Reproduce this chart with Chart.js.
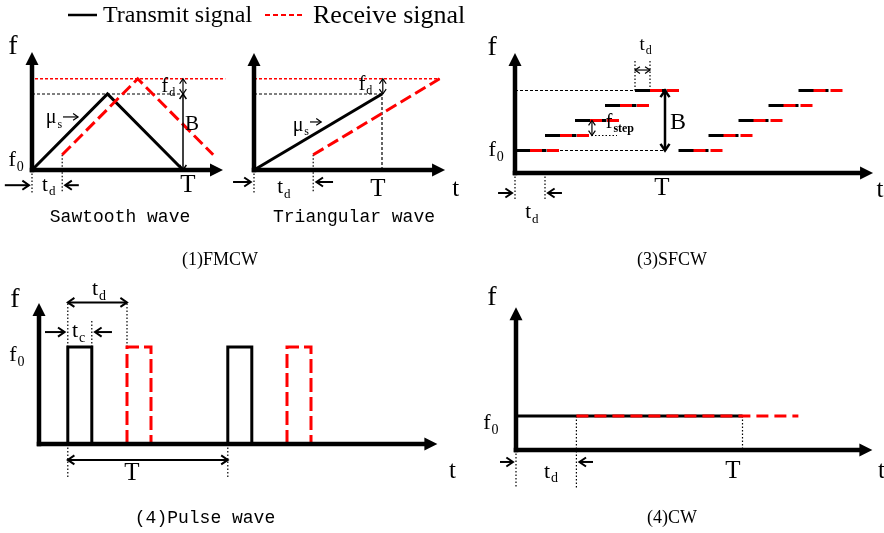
<!DOCTYPE html>
<html>
<head>
<meta charset="utf-8">
<script src="https://cdn.jsdelivr.net/npm/chart.js@4.4.1/dist/chart.umd.min.js"></script>
<style>
  html, body { margin: 0; padding: 0; background: #fff; }
  canvas { display: block; }
</style>
</head>
<body>
<canvas id="grafico" width="884" height="533"></canvas>
<script>
// ============================================
// Formas de onda de radar — FMCW / SFCW / Pulso / CW
// ============================================

const VERM = "#ff0000"
const PRETO = "#000000"

// ---- legenda
const legendaTextos = ["Transmit signal", "Receive signal"]

// ---- (1) FMCW: dente de serra  [t, f]
const serraTx    = [[0, 0], [5, 5], [10, 0]]
const serraRx    = [[2, 1], [7, 6], [12, 1]]
const serraRefB  = [[0, 5], [10.1, 5]]
const serraRefFd = [[0.2, 6], [12.8, 6]]
const serraPont  = [[[0, 0], [0, -1.5]], [[2, 1], [2, -1.5]]]
const serraEixos = [12.65, 7.76]
const serraSetas = [ // x0, y0, x1, y1, dupla, espessura
  [10, 0, 10, 5, true, 1.5],
  [10, 5, 10, 6, true, 1.2],
  [-1.8, -1, -0.2, -1, false, 2],
  [3.1, -1, 2.2, -1, false, 2],
  [2.05, 3.49, 3.05, 3.49, false, 1.2]
]
const serraTextos = [ // x, y, texto, indice, tamanho, fonte
  [-1.26, 8.09, "f", "", 28],
  [-1.32, 0.66, "f", "0", 22],
  [0.86, -0.99, "t", "d", 21],
  [8.8, 5.5, "f", "d", 20],
  [10.6, 3.0, "B", "", 21],
  [1.26, 3.42, "μ", "s", 20],
  [10.33, -0.99, "T", "", 25],
  [5.83, -3.09, "Sawtooth wave", "", 18, "mono"],
  [12.45, -5.92, "(1)FMCW", "", 18]
]

// ---- (1) FMCW: triangular
const triTx    = [[0, 0], [8, 5]]
const triRx    = [[3.7, 1], [11.6, 6]]
const triRefB  = [[0, 5], [8, 5]]
const triRefFd = [[0, 6], [11.6, 6]]
const triRefT  = [[8, 0], [8, 5]]
const triPont  = [[[0, 0], [0, -1.5]], [[3.7, 1], [3.7, -1.5]]]
const triEixos = [11.94, 7.7]
const triSetas = [
  [8.05, 5, 8.05, 6, true, 1.2],
  [-1.31, -0.79, -0.2, -0.79, false, 2],
  [4.94, -0.79, 3.9, -0.79, false, 2],
  [3.5, 3.16, 4.2, 3.16, false, 1.2]
]
const triTextos = [
  [6.75, 5.6, "f", "d", 20],
  [2.75, 2.9, "μ", "s", 20],
  [1.63, -1.18, "t", "d", 21],
  [7.75, -1.3, "T", "", 25],
  [12.6, -1.3, "t", "", 25],
  [6.25, -3.09, "Triangular wave", "", 18, "mono"]
]

// ---- (3) SFCW: degraus [t0, t1, f]
const sfcwTx = [[0, 2.1, 3], [2, 4.1, 5], [4, 6.1, 7], [6, 8.1, 9], [8, 10.1, 11],
                [10.9, 12.9, 3], [12.9, 14.9, 5], [14.9, 16.9, 7], [16.9, 18.9, 9], [18.9, 20.9, 11]]
const sfcwRx = [[1, 3, 3], [3, 5, 5], [5, 7, 7], [7, 9, 9], [9, 11, 11],
                [11.9, 13.9, 3], [13.9, 15.9, 5], [15.9, 17.9, 7], [17.9, 19.9, 9], [19.9, 21.9, 11]]
const sfcwRefTopo  = [[0, 11], [8, 11]]
const sfcwRefBase  = [[3, 3], [9.9, 3]]
const sfcwRefStep  = [[5.1, 5], [6.8, 5]]
const sfcwPont = [[[8, 11], [8, 15.1]], [[9, 11], [9, 15.1]], [[0, 0], [0, -3.6]], [[2, 0], [2, -3.6]]]
const sfcwEixos = [23.87, 16]
const sfcwSetas = [
  [10, 3, 10, 11, true, 2.5],
  [5.13, 5, 5.13, 7, true, 1.2],
  [8, 13.73, 9, 13.73, true, 1.2],
  [-1.13, -2.67, -0.2, -2.67, false, 2],
  [3.13, -2.67, 2.2, -2.67, false, 2]
]
const sfcwTextos = [
  [-1.53, 16.67, "f", "", 28],
  [8.47, 17.1, "t", "d", 19],
  [6.27, 6.67, "f", "step", 20, "", true],
  [10.87, 6.67, "B", "", 24],
  [-1.53, 3.07, "f", "0", 22],
  [9.8, -2, "T", "", 25],
  [24.33, -2.27, "t", "", 25],
  [0.87, -5.33, "t", "d", 21],
  [10.47, -11.6, "(3)SFCW", "", 18]
]

// ---- (4) Pulso
const pulsoTx = [[[1.8, 0], [1.8, 5], [3.3, 5], [3.3, 0]], [[11.8, 0], [11.8, 5], [13.3, 5], [13.3, 0]]]
const pulsoRx = [[[5.5, 0], [5.5, 5], [7, 5], [7, 0]], [[15.5, 0], [15.5, 5], [17, 5], [17, 0]]]
const pulsoPont = [[[1.8, 5], [1.8, 7.3]], [[5.5, 5], [5.5, 7.3]], [[3.3, 5], [3.3, 6.4]],
                   [[1.8, 0], [1.8, -1.75]], [[11.8, 0], [11.8, -1.75]]]
const pulsoEixos = [24.9, 7.27]
const pulsoSetas = [
  [1.8, 7.3, 5.5, 7.3, true, 2],
  [0.375, 5.77, 1.6, 5.77, false, 2],
  [4.56, 5.77, 3.5, 5.77, false, 2],
  [1.8, -0.82, 11.8, -0.82, true, 2]
]
const pulsoTextos = [
  [-1.5, 7.42, "f", "", 28],
  [-1.63, 4.59, "f", "0", 22],
  [3.5, 7.99, "t", "d", 22],
  [2.25, 5.82, "t", "c", 22],
  [5.81, -1.5, "T", "", 25],
  [10.375, -3.81, "(4)Pulse wave", "", 18, "mono"]
]

// ---- (4) CW
const cwTx = [[0, 5], [15, 5]]
const cwRx = [[4, 5], [18.7, 5]]
const cwPont = [[[4, 5], [4, -5.6]], [[15, 5], [15, 0]], [[0, 0], [0, -5.6]]]
const cwEixos = [23.6, 21]
const cwSetas = [
  [-1.06, -1.76, -0.2, -1.76, false, 2],
  [5.1, -1.76, 4.2, -1.76, false, 2]
]
const cwTextos = [
  [-1.6, 22.35, "f", "", 28],
  [-1.93, 3.97, "f", "0", 22],
  [2.05, -3.2, "t", "d", 22],
  [14.37, -3.2, "T", "", 25],
  [24.2, -3.2, "t", "", 25],
  [-4.2, -3.2, "t", "", 25],
  [10.33, -10, "(4)CW", "", 18]
]

// posicao de cada painel no quadro: origem em px e px por unidade
const paineis = [
  { id: "1", ox: 32,  oy: 170, px: 15.1, py: 15.2, eixos: serraEixos, setas: serraSetas, textos: serraTextos },
  { id: "2", ox: 254, oy: 170, px: 16,   py: 15.2, eixos: triEixos,   setas: triSetas,   textos: triTextos },
  { id: "3", ox: 515, oy: 173, px: 15,   py: 7.5,  eixos: sfcwEixos,  setas: sfcwSetas,  textos: sfcwTextos },
  { id: "4", ox: 39,  oy: 444, px: 16,   py: 19.4, eixos: pulsoEixos, setas: pulsoSetas, textos: pulsoTextos },
  { id: "5", ox: 516, oy: 450, px: 15.1, py: 6.8,  eixos: cwEixos,    setas: cwSetas,    textos: cwTextos }
]

function linha(pts, p, cor, larg, traco, ordem) {
  return {
    data: pts.map(([x, y]) => ({ x, y })),
    xAxisID: "x" + p, yAxisID: "y" + p,
    showLine: true, pointRadius: 0, borderColor: cor, borderWidth: larg,
    borderDash: traco || [], fill: false, order: ordem
  }
}

const PONT = [1.5, 2]
const TRACEJ = [3, 2]
const datasets = [
  linha(serraTx, "1", PRETO, 3, null, 1),
  linha(serraRx, "1", VERM, 3, [12, 5], 0),
  linha(serraRefB, "1", PRETO, 1.2, TRACEJ, 2),
  linha(serraRefFd, "1", VERM, 1.5, TRACEJ, 2),
  ...serraPont.map(s => linha(s, "1", PRETO, 1.2, PONT, 2)),

  linha(triTx, "2", PRETO, 3, null, 1),
  linha(triRx, "2", VERM, 3, [12, 5], 0),
  linha(triRefB, "2", PRETO, 1.2, TRACEJ, 2),
  linha(triRefFd, "2", VERM, 1.5, TRACEJ, 2),
  linha(triRefT, "2", PRETO, 1.2, TRACEJ, 2),
  ...triPont.map(s => linha(s, "2", PRETO, 1.2, PONT, 2)),

  ...sfcwTx.map(([a, b, f]) => linha([[a, f], [b, f]], "3", PRETO, 3, null, 1)),
  ...sfcwRx.map(([a, b, f]) => linha([[a, f], [b, f]], "3", VERM, 3, [12, 5], 0)),
  linha(sfcwRefTopo, "3", PRETO, 1.2, TRACEJ, 2),
  linha(sfcwRefBase, "3", PRETO, 1.2, TRACEJ, 2),
  linha(sfcwRefStep, "3", PRETO, 1.2, PONT, 2),
  ...sfcwPont.map(s => linha(s, "3", PRETO, 1.2, PONT, 2)),

  ...pulsoTx.map(s => linha(s, "4", PRETO, 3, null, 1)),
  ...pulsoRx.map(s => linha(s, "4", VERM, 3, [14, 5], 0)),
  ...pulsoPont.map(s => linha(s, "4", PRETO, 1.2, PONT, 2)),

  linha(cwTx, "5", PRETO, 3, null, 1),
  linha(cwRx, "5", VERM, 3, [12, 6], 0),
  ...cwPont.map(s => linha(s, "5", PRETO, 1.2, PONT, 2))
]

const escalas = {}
paineis.forEach(p => {
  escalas["x" + p.id] = { type: "linear", display: false, min: (0 - p.ox) / p.px, max: (884 - p.ox) / p.px }
  escalas["y" + p.id] = { type: "linear", display: false, min: (p.oy - 533) / p.py, max: p.oy / p.py }
})

function eixo(ctx, x0, y0, x1, y1) {
  const ang = Math.atan2(y1 - y0, x1 - x0)
  const cab = 13, meia = 6.5
  ctx.strokeStyle = PRETO; ctx.fillStyle = PRETO
  ctx.lineWidth = 4.5; ctx.setLineDash([]); ctx.lineCap = "square"
  ctx.beginPath()
  ctx.moveTo(x0, y0)
  ctx.lineTo(x1 - Math.cos(ang) * cab, y1 - Math.sin(ang) * cab)
  ctx.stroke()
  ctx.beginPath()
  ctx.moveTo(x1, y1)
  ctx.lineTo(x1 - Math.cos(ang) * cab - Math.sin(ang) * meia, y1 - Math.sin(ang) * cab + Math.cos(ang) * meia)
  ctx.lineTo(x1 - Math.cos(ang) * cab + Math.sin(ang) * meia, y1 - Math.sin(ang) * cab - Math.cos(ang) * meia)
  ctx.closePath()
  ctx.fill()
  ctx.lineCap = "butt"
}

function ponta(ctx, x, y, ang, tam) {
  ctx.beginPath()
  ctx.moveTo(x - Math.cos(ang - 0.6) * tam, y - Math.sin(ang - 0.6) * tam)
  ctx.lineTo(x, y)
  ctx.lineTo(x - Math.cos(ang + 0.6) * tam, y - Math.sin(ang + 0.6) * tam)
  ctx.stroke()
}

function seta(ctx, x0, y0, x1, y1, dupla, larg) {
  const ang = Math.atan2(y1 - y0, x1 - x0)
  ctx.strokeStyle = PRETO; ctx.lineWidth = larg; ctx.setLineDash([])
  ctx.beginPath(); ctx.moveTo(x0, y0); ctx.lineTo(x1, y1); ctx.stroke()
  const tam = larg > 1.8 ? 8 : 6
  ponta(ctx, x1, y1, ang, tam)
  if (dupla) ponta(ctx, x0, y0, ang + Math.PI, tam)
}

function texto(ctx, x, y, t, sub, tam, fonte, negrito) {
  const fam = fonte === "mono" ? '"Liberation Mono", "DejaVu Sans Mono", monospace' : '"Liberation Serif", "DejaVu Serif", serif'
  ctx.font = `${tam}px ${fam}`
  ctx.fillStyle = PRETO
  ctx.textAlign = "center"; ctx.textBaseline = "middle"
  ctx.fillText(t, x, y)
  if (sub) {
    const w = ctx.measureText(t).width
    ctx.font = `${negrito ? "bold " : ""}${Math.round(tam * 0.62)}px "Liberation Serif", serif`
    ctx.textAlign = "left"
    ctx.fillText(sub, x + w / 2 + 1, y + tam * 0.32)
  }
}

const desenho = {
  id: "desenho",
  beforeDraw(chart) {
    const ctx = chart.ctx
    ctx.save(); ctx.fillStyle = "#fff"; ctx.fillRect(0, 0, chart.width, chart.height); ctx.restore()
  },
  afterDatasetsDraw(chart) {
    const ctx = chart.ctx
    ctx.save()
    paineis.forEach(p => {
      const sx = chart.scales["x" + p.id], sy = chart.scales["y" + p.id]
      const X = v => sx.getPixelForValue(v), Y = v => sy.getPixelForValue(v)
      eixo(ctx, X(0), Y(0), X(p.eixos[0]), Y(0))
      eixo(ctx, X(0), Y(0), X(0), Y(p.eixos[1]))
      p.setas.forEach(s => seta(ctx, X(s[0]), Y(s[1]), X(s[2]), Y(s[3]), s[4], s[5]))
      p.textos.forEach(t => texto(ctx, X(t[0]), Y(t[1]), t[2], t[3], t[4], t[5], t[6]))
    })

    // legenda no topo
    ctx.setLineDash([]); ctx.strokeStyle = PRETO; ctx.lineWidth = 2.5
    ctx.beginPath(); ctx.moveTo(68, 15); ctx.lineTo(97, 15); ctx.stroke()
    ctx.setLineDash([5, 3]); ctx.strokeStyle = VERM; ctx.lineWidth = 2
    ctx.beginPath(); ctx.moveTo(265, 15); ctx.lineTo(303, 15); ctx.stroke()
    ctx.setLineDash([])
    ctx.fillStyle = PRETO; ctx.textAlign = "left"; ctx.textBaseline = "middle"
    ctx.font = '24px "Liberation Serif", serif'
    ctx.fillText(legendaTextos[0], 103, 16)
    ctx.font = '26px "Liberation Serif", serif'
    ctx.fillText(legendaTextos[1], 313, 16)
    ctx.restore()
  }
}

new Chart(document.getElementById("grafico").getContext("2d"), {
  type: "scatter",
  data: { datasets },
  options: {
    responsive: false,
    animation: false,
    events: [],
    layout: { padding: 0 },
    plugins: { legend: { display: false }, tooltip: { enabled: false } },
    scales: escalas
  },
  plugins: [desenho]
})
</script>
</body>
</html>
